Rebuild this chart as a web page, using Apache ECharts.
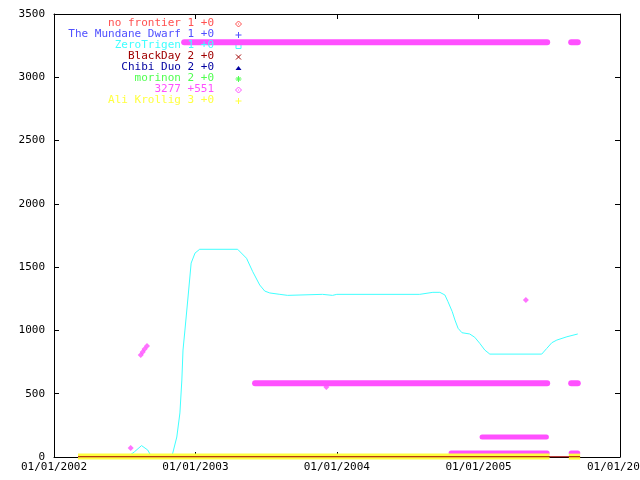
<!DOCTYPE html>
<html><head><meta charset="utf-8">
<script src="https://cdn.jsdelivr.net/npm/echarts@6/dist/echarts.min.js"></script>
<style>html,body{margin:0;padding:0;background:#fff}#c{width:640px;height:480px}</style>
</head><body><div id="c"></div>
<script>
// ---------- data ----------
const xTickDates = ['2002-01-01','2003-01-01','2004-01-01','2005-01-01','2006-01-01'];
const yTicks = [0,500,1000,1500,2000,2500,3000,3500];

const seriesNames = ['no frontier','The Mundane Dwarf','ZeroTrigen','BlackDay','Chibi Duo','morinon','3277','Ali Krollig'];
const legendValues = ['1 +0','1 +0','1 +0','2 +0','2 +0','2 +0','+551','3 +0'];

// series lying on the zero line (hidden under the yellow band)
const noFrontier   = [['2002-03-04',1],['2005-07-03',1]];
const mundaneDwarf = [['2002-03-04',1],['2005-07-03',1]];
const chibiDuo     = [['2002-03-04',2],['2005-07-03',2]];
const morinon      = [['2002-03-04',2],['2005-07-03',2]];
const blackDay     = [['2002-03-04',2],['2005-09-20',2]];
const aliKrollig1  = [['2002-03-04',3],['2005-07-03',3]];
const aliKrollig2  = [['2005-08-22',3],['2005-09-20',3]];

const zeroTrigen = [
  ['2002-03-04',0],['2002-06-05',8],['2002-07-15',12],['2002-07-28',42],['2002-08-15',90],
  ['2002-08-31',55],['2002-09-10',0],['2002-11-01',0],['2002-11-14',158],['2002-11-22',348],
  ['2002-11-27',608],['2002-11-30',845],['2002-12-05',1003],['2002-12-13',1264],['2002-12-21',1532],
  ['2002-12-31',1611],['2003-01-12',1641],['2003-04-20',1641],['2003-05-13',1570],['2003-05-29',1464],
  ['2003-06-16',1359],['2003-06-29',1311],['2003-07-12',1296],['2003-08-07',1285],['2003-08-27',1277],
  ['2003-11-25',1285],['2003-12-21',1277],['2004-01-01',1285],['2004-08-02',1285],['2004-09-05',1301],
  ['2004-09-23',1301],['2004-10-06',1280],['2004-10-14',1227],['2004-10-25',1148],['2004-11-01',1082],
  ['2004-11-09',1017],['2004-11-19',982],['2004-12-09',972],['2004-12-22',946],['2005-01-04',898],
  ['2005-01-17',845],['2005-01-30',813],['2005-06-13',813],['2005-06-26',858],['2005-07-09',903],
  ['2005-07-22',924],['2005-08-17',950],['2005-09-14',972]
];

// "3277": dense runs of points (start/end of each run) and isolated points
const s3277RunsTop  = [[['2002-12-03',3277],['2005-06-27',3277]], [['2005-08-28',3277],['2005-09-14',3277]]];
const s3277RunsMid  = [[['2003-06-04',583],['2005-06-27',583]], [['2005-08-28',583],['2005-09-14',583]]];
const s3277RunsLow  = [[['2005-01-10',158],['2005-06-25',158]]];
const s3277RunsBase = [[['2004-10-22',32],['2005-06-27',32]], [['2005-08-28',32],['2005-09-14',32]]];
const s3277Points = [
  ['2002-07-18',71],['2002-08-13',806],['2002-08-18',830],['2002-08-23',853],['2002-08-29',877],
  ['2003-12-05',553],['2005-05-03',1240]
];

// ---------- styling ----------
const colors = {
  'no frontier':'#ff5050','The Mundane Dwarf':'#5050ff','ZeroTrigen':'#40ffff','BlackDay':'#a00000',
  'Chibi Duo':'#0000a0','morinon':'#50ff50','3277':'#ff50ff','Ali Krollig':'#ffff40'
};
const symbolsKey = ['diamondHollow','plus','square','cross','triangle','asterisk','diamondHollow','plus'];
const FONT = 'DejaVu Sans Mono';
const P = s => echarts.number.parseDate(s).getTime();
const toXY = arr => arr.map(d => [P(d[0]), d[1]]);
const xMin = P(xTickDates[0]), xMax = P(xTickDates[xTickDates.length-1]);
const xTickVals = xTickDates.map(P);
const pad = n => (n<10?'0':'')+n;
const fmtDate = v => { const d = new Date(v); return pad(d.getMonth()+1)+'/'+pad(d.getDate())+'/'+d.getFullYear(); };

function lineSeries(name, data, width, z, cap) {
  return { name, type:'line', data: toXY(data), symbol:'none', z, clip:false, animation:false, silent:true,
    lineStyle:{ color: colors[name], width, cap: cap || 'butt', opacity:1 }, itemStyle:{color:colors[name]} };
}

const series = [];
series.push(lineSeries('no frontier', noFrontier, 1, 1));
series.push(lineSeries('The Mundane Dwarf', mundaneDwarf, 1, 1));
series.push(lineSeries('ZeroTrigen', zeroTrigen, 1, 1.5));
series.push(lineSeries('Chibi Duo', chibiDuo, 1, 1));
series.push(lineSeries('morinon', morinon, 1, 1));
series.push(lineSeries('Ali Krollig', aliKrollig1, 6, 2));
series.push(lineSeries('Ali Krollig', aliKrollig2, 6, 2));
series.push(lineSeries('BlackDay', blackDay, 1, 3));
s3277RunsTop.forEach(r => series.push(lineSeries('3277', r, 6, 4, 'round')));
s3277RunsMid.forEach(r => series.push(lineSeries('3277', r, 6, 4, 'round')));
s3277RunsLow.forEach(r => series.push(lineSeries('3277', r, 5, 4, 'round')));
s3277RunsBase.forEach(r => series.push(lineSeries('3277', r, 5, 1.8, 'round')));
series.push({ name:'3277', type:'scatter', data:toXY(s3277Points), symbol:'diamond', symbolSize:[6,6], z:4,
  itemStyle:{color:colors['3277']}, animation:false, silent:true });

// ---------- key (gnuplot-style) ----------
function keySymbol(type, color) {
  const s = {stroke:color, lineWidth:1, fill:null};
  switch(type) {
    case 'diamondHollow': return [{type:'polygon', shape:{points:[[0,-3],[3,0],[0,3],[-3,0]]}, style:s},
                                  {type:'rect', shape:{x:-0.5,y:-0.5,width:1,height:1}, style:{fill:color}}];
    case 'plus': return [{type:'line', shape:{x1:-3,y1:0,x2:3,y2:0}, style:s},{type:'line', shape:{x1:0,y1:-3,x2:0,y2:3}, style:s}];
    case 'square': return [{type:'rect', shape:{x:-2.5,y:-2.5,width:5,height:5}, style:s}];
    case 'cross': return [{type:'line', shape:{x1:-2.5,y1:-2.5,x2:2.5,y2:2.5}, style:s},{type:'line', shape:{x1:-2.5,y1:2.5,x2:2.5,y2:-2.5}, style:s}];
    case 'triangle': return [{type:'polygon', shape:{points:[[0,-2],[3,2],[-3,2]]}, style:{fill:color}}];
    case 'asterisk': return [{type:'line', shape:{x1:-3,y1:0,x2:3,y2:0}, style:s},{type:'line', shape:{x1:0,y1:-3,x2:0,y2:3}, style:s},
                             {type:'line', shape:{x1:-2,y1:-2,x2:2,y2:2}, style:s},{type:'line', shape:{x1:-2,y1:2,x2:2,y2:-2}, style:s}];
  }
  return [];
}
const graphic = [];
seriesNames.forEach((n,i) => {
  const y = 23.5 + 11*i;
  graphic.push({type:'text', x:214, y, z:100, style:{text: n + ' ' + legendValues[i], fill: colors[n],
    font: '11px "' + FONT + '"', align:'right', verticalAlign:'middle'}});
  graphic.push({type:'group', x:238.5, y:y+0.5, z:100, children: keySymbol(symbolsKey[i], colors[n])});
});

const axisLineStyle = {show:true, onZero:false, lineStyle:{color:'#000', width:1}};
const option = {
  backgroundColor:'#fff',
  animation:false,
  grid:{left:54, right:20, top:14, bottom:23, containLabel:false, outerBoundsMode:'none'},
  xAxis:[
    {type:'value', min:xMin, max:xMax, axisLine:axisLineStyle,
     axisTick:{show:true, inside:true, length:5, customValues:xTickVals, lineStyle:{color:'#000'}},
     axisLabel:{customValues:xTickVals, formatter:fmtDate, color:'#000', fontFamily:FONT, fontSize:11, margin:5, hideOverlap:false, showMinLabel:true, showMaxLabel:true},
     splitLine:{show:false}},
    {type:'value', position:'top', min:xMin, max:xMax, axisLine:axisLineStyle,
     axisTick:{show:true, inside:true, length:5, customValues:xTickVals, lineStyle:{color:'#000'}},
     axisLabel:{show:false}, splitLine:{show:false}}
  ],
  yAxis:[
    {type:'value', min:yTicks[0], max:yTicks[yTicks.length-1], interval:500, axisLine:axisLineStyle,
     axisTick:{show:true, inside:true, length:5, lineStyle:{color:'#000'}},
     axisLabel:{color:'#000', fontFamily:FONT, fontSize:11, margin:9, showMinLabel:true, showMaxLabel:true, formatter: v => String(v)},
     splitLine:{show:false}},
    {type:'value', position:'right', min:yTicks[0], max:yTicks[yTicks.length-1], interval:500, axisLine:axisLineStyle,
     axisTick:{show:true, inside:true, length:5, lineStyle:{color:'#000'}},
     axisLabel:{show:false}, splitLine:{show:false}}
  ],
  series,
  graphic
};
const chart = echarts.init(document.getElementById('c'), null, {renderer:'canvas'});
chart.setOption(option);
</script>
</body></html>
